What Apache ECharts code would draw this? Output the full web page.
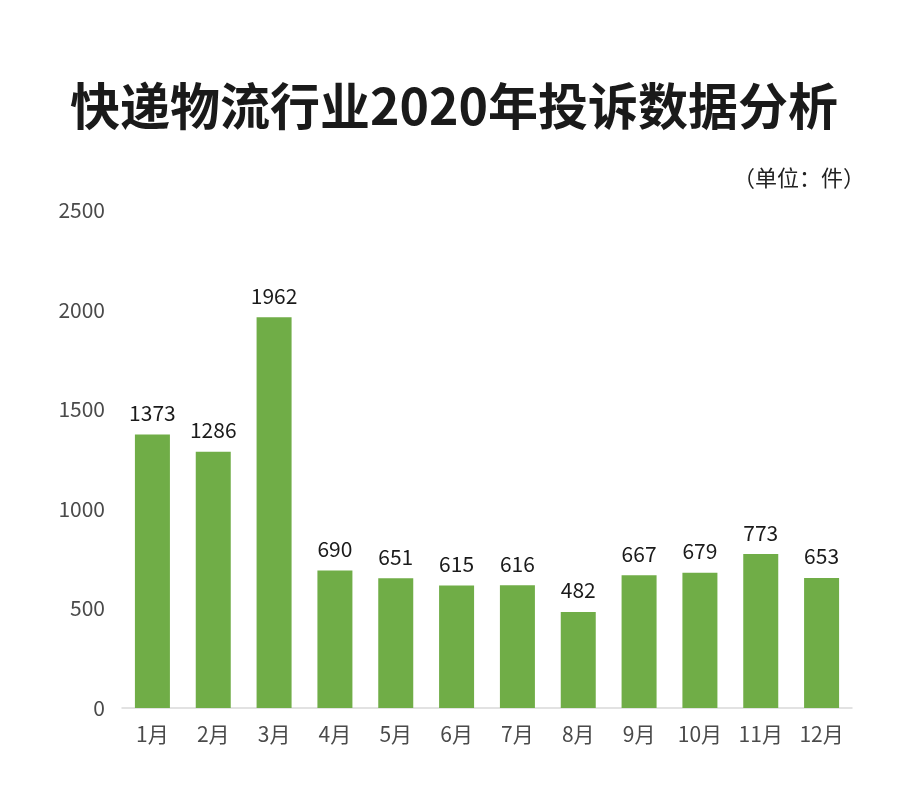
<!DOCTYPE html>
<html>
<head>
<meta charset="utf-8">
<title>快递物流行业2020年投诉数据分析</title>
<script src="https://cdn.jsdelivr.net/npm/echarts@6/dist/echarts.min.js"></script>
<style>
  html, body { margin: 0; padding: 0; background: #fff; }
  #chart { width: 908px; height: 791px; }
</style>
</head>
<body>
<div id="chart"></div>
<script>
// 月份与投诉数量
const months = ['1月', '2月', '3月', '4月', '5月', '6月', '7月', '8月', '9月', '10月', '11月', '12月']
const complaints = [1373, 1286, 1962, 690, 651, 615, 616, 482, 667, 679, 773, 653]
const yTicks = [0, 500, 1000, 1500, 2000, 2500]

const chart = echarts.init(document.getElementById('chart'))
const font = '"Noto Sans CJK SC", "Noto Sans", sans-serif'

chart.setOption({
  backgroundColor: '#ffffff',
  animation: false,
  title: [
    {
      text: '快递物流行业2020年投诉数据分析',
      left: 'center',
      top: 76,
      textStyle: { fontFamily: font, fontSize: 50, fontWeight: 'bold', color: '#1a1a1a' }
    },
    {
      text: '（单位：件）',
      right: 38,
      top: 162,
      textStyle: { fontFamily: font, fontSize: 22, fontWeight: 'normal', color: '#222' }
    }
  ],
  grid: { left: 122, right: 56, top: 210, bottom: 83 },
  xAxis: {
    type: 'category',
    data: months,
    axisLine: { lineStyle: { color: '#d9d9d9', width: 1.5 } },
    axisTick: { show: false },
    axisLabel: { fontFamily: font, fontSize: 21, color: '#4a4a4a', margin: 16 }
  },
  yAxis: {
    type: 'value',
    min: yTicks[0],
    max: yTicks[yTicks.length - 1],
    interval: 500,
    splitLine: { show: false },
    axisLine: { show: false },
    axisTick: { show: false },
    axisLabel: {
      fontFamily: font,
      fontSize: 21,
      color: '#4a4a4a',
      margin: 17,
      formatter: v => String(v)
    }
  },
  series: [
    {
      type: 'bar',
      data: complaints,
      barWidth: 35,
      itemStyle: { color: '#70ad47' },
      label: {
        show: true,
        position: 'top',
        distance: 11,
        fontFamily: font,
        fontSize: 21,
        color: '#1a1a1a'
      }
    }
  ]
})
</script>
</body>
</html>
